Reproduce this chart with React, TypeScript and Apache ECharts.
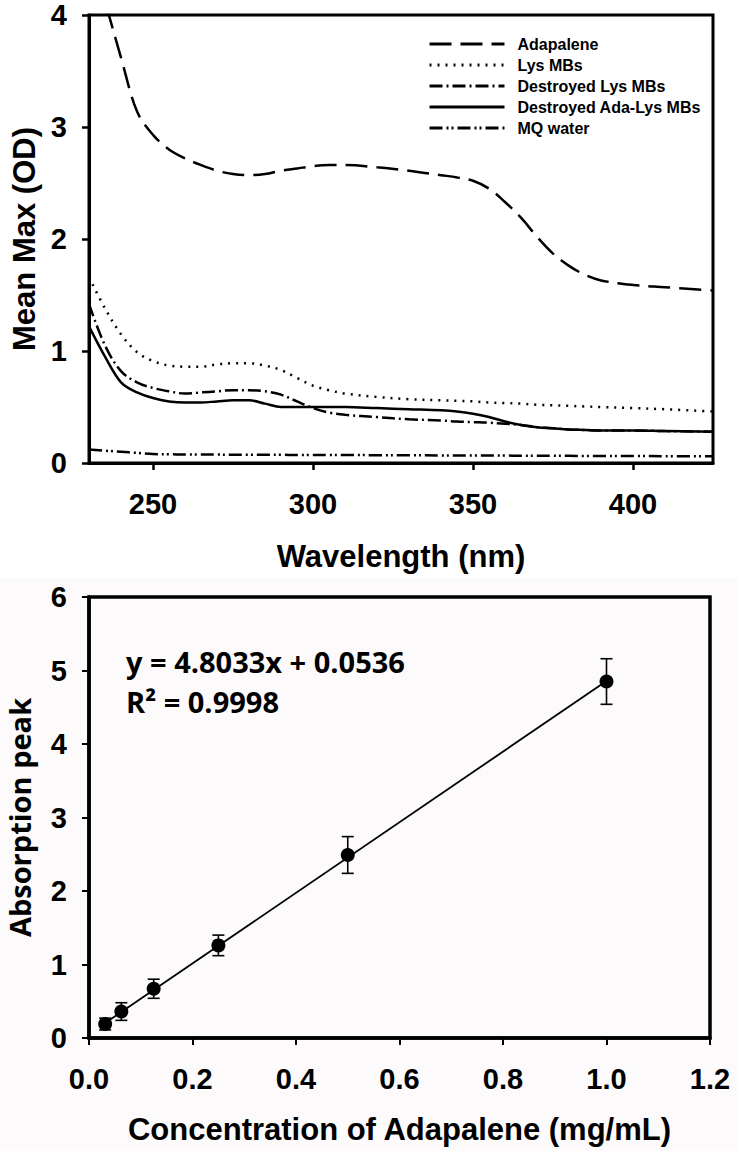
import React, { useEffect, useRef } from "react";
import * as echarts from "echarts";

// ---- Top chart: UV spectra ----
const wavelengths = [230, 235, 240, 245, 250, 255, 260, 265, 270, 275, 280, 285, 290, 295, 300, 305, 310, 320, 330, 340, 345, 350, 355, 360, 365, 370, 375, 380, 385, 390, 400, 410, 425];
const adapalene = [4.6, 4.12, 3.62, 3.14, 2.93, 2.8, 2.72, 2.66, 2.61, 2.58, 2.57, 2.58, 2.61, 2.63, 2.65, 2.66, 2.66, 2.64, 2.61, 2.57, 2.55, 2.52, 2.45, 2.33, 2.19, 2.02, 1.87, 1.76, 1.68, 1.63, 1.59, 1.57, 1.54];
const lysMBs = [1.66, 1.38, 1.15, 0.99, 0.91, 0.87, 0.86, 0.86, 0.88, 0.89, 0.89, 0.87, 0.83, 0.76, 0.69, 0.65, 0.62, 0.59, 0.57, 0.56, 0.555, 0.55, 0.54, 0.535, 0.53, 0.52, 0.515, 0.51, 0.505, 0.5, 0.49, 0.48, 0.46];
const destroyedLys = [1.42, 1.05, 0.82, 0.72, 0.67, 0.64, 0.62, 0.63, 0.64, 0.65, 0.65, 0.64, 0.61, 0.55, 0.49, 0.45, 0.43, 0.41, 0.39, 0.38, 0.37, 0.365, 0.36, 0.35, 0.34, 0.32, 0.31, 0.3, 0.295, 0.29, 0.29, 0.285, 0.28];
const destroyedAdaLys = [1.22, 0.95, 0.72, 0.63, 0.58, 0.55, 0.54, 0.54, 0.55, 0.56, 0.56, 0.53, 0.5, 0.5, 0.5, 0.5, 0.5, 0.49, 0.48, 0.47, 0.46, 0.44, 0.41, 0.37, 0.34, 0.32, 0.31, 0.3, 0.295, 0.29, 0.29, 0.285, 0.28];
const mqWater = [0.12, 0.11, 0.1, 0.09, 0.08, 0.078, 0.076, 0.075, 0.075, 0.074, 0.074, 0.073, 0.073, 0.072, 0.072, 0.071, 0.071, 0.07, 0.07, 0.068, 0.068, 0.067, 0.066, 0.066, 0.065, 0.065, 0.064, 0.064, 0.063, 0.063, 0.062, 0.061, 0.06];
const wavelengthTicks = [250, 300, 350, 400];
const seriesNames = ["Adapalene", "Lys MBs", "Destroyed Lys MBs", "Destroyed Ada-Lys MBs", "MQ water"];

// ---- Bottom chart: calibration ----
const concentrations = [0.03125, 0.0625, 0.125, 0.25, 0.5, 1.0];
const absorption = [0.19, 0.36, 0.67, 1.26, 2.49, 4.85];
const absorptionErr = [0.08, 0.12, 0.13, 0.14, 0.25, 0.31];
const trendX = [0.03125, 1.0];
const trendY = [0.204, 4.857];
const equationText = "y = 4.8033x + 0.0536";
const r2Text = "R² = 0.9998";

const ARIAL = "Liberation Sans";

export default function App() {
  const ref = useRef<HTMLDivElement>(null);

  useEffect(() => {
    if (!ref.current) return;
    const chart = echarts.init(ref.current, undefined, { renderer: "svg" });

    const pair = (ys: number[]) => wavelengths.map((w, i) => [w, ys[i]]);
    const dashes: any[] = [
      [22, 9],
      [2, 6],
      [13, 4, 2, 4],
      "solid",
      [13, 4, 2, 3, 2, 4],
    ];
    const datasets = [adapalene, lysMBs, destroyedLys, destroyedAdaLys, mqWater];

    const topSeries = seriesNames.map((name, i) => ({
      name,
      type: "line",
      xAxisIndex: 0,
      yAxisIndex: 0,
      data: pair(datasets[i]),
      smooth: 0.35,
      symbol: "none",
      clip: true,
      lineStyle: { color: "#000", width: 2.5, type: dashes[i] },
      itemStyle: { color: "#000" },
      z: 3,
    }));

    const tickLabel = {
      fontFamily: ARIAL,
      fontWeight: "bold",
      fontSize: 29,
      color: "#000",
    };

    const eqStyle = {
      fontFamily: "Open Sans",
      fontWeight: "bold",
      fontSize: 29,
      fill: "#000",
      verticalAlign: "middle",
    };

    const option: any = {
      animation: false,
      backgroundColor: "#fff",
      graphic: [
        {
          type: "rect",
          left: 0,
          top: 578,
          shape: { width: 738, height: 573 },
          style: { fill: "#fcfafa" },
          silent: true,
          z: -10,
        },
        {
          type: "text",
          x: 126,
          y: 661,
          style: { ...eqStyle, text: equationText },
          z: 10,
        },
        {
          type: "text",
          x: 126,
          y: 701,
          style: { ...eqStyle, text: r2Text },
          z: 10,
        },
      ],
      legend: {
        data: seriesNames,
        orient: "vertical",
        left: 423,
        top: 31,
        itemWidth: 75,
        itemHeight: 14,
        itemGap: 5,
        align: "left",
        selectedMode: false,
        itemStyle: { color: "rgba(0,0,0,0)", borderWidth: 0, opacity: 0 },
        textStyle: {
          fontFamily: ARIAL,
          fontWeight: "bold",
          fontSize: 16,
          lineHeight: 16,
          color: "#000",
          padding: [0, 0, 0, 8],
        },
        lineStyle: { width: 3, color: "#000" },
      },
      grid: [
        {
          left: 89,
          top: 15,
          width: 624,
          height: 448,
          show: true,
          borderColor: "#000",
          borderWidth: 3,
          backgroundColor: "transparent",
          outerBoundsMode: "none",
          containLabel: false,
        },
        {
          left: 89,
          top: 597,
          width: 621,
          height: 441,
          show: true,
          borderColor: "#000",
          borderWidth: 3.5,
          backgroundColor: "transparent",
          outerBoundsMode: "none",
          containLabel: false,
        },
      ],
      xAxis: [
        {
          gridIndex: 0,
          type: "value",
          min: 230,
          max: 425,
          splitLine: { show: false },
          axisLine: { show: true, lineStyle: { color: "#000", width: 3 } },
          axisTick: { show: true, length: 7, lineStyle: { color: "#000", width: 2.5 }, customValues: wavelengthTicks },
          axisLabel: { ...tickLabel, margin: 26, customValues: wavelengthTicks },
          name: "Wavelength (nm)",
          nameLocation: "middle",
          nameGap: 78,
          nameTextStyle: { fontFamily: ARIAL, fontWeight: "bold", fontSize: 31, color: "#000" },
        },
        {
          gridIndex: 1,
          type: "value",
          min: 0,
          max: 1.2,
          interval: 0.2,
          splitLine: { show: false },
          axisLine: { show: true, lineStyle: { color: "#000", width: 3.5 } },
          axisTick: { show: true, length: 7, lineStyle: { color: "#000", width: 2 } },
          axisLabel: { ...tickLabel, margin: 26, formatter: (v: number) => v.toFixed(1) },
          name: "Concentration of Adapalene (mg/mL)",
          nameLocation: "middle",
          nameGap: 76,
          nameTextStyle: { fontFamily: ARIAL, fontWeight: "bold", fontSize: 31, color: "#000" },
        },
      ],
      yAxis: [
        {
          gridIndex: 0,
          type: "value",
          min: 0,
          max: 4,
          interval: 1,
          splitLine: { show: false },
          axisLine: { show: true, lineStyle: { color: "#000", width: 3 } },
          axisTick: { show: true, length: 7, lineStyle: { color: "#000", width: 2.5 } },
          axisLabel: { ...tickLabel, margin: 22 },
          name: "Mean Max (OD)",
          nameLocation: "middle",
          nameGap: 38,
          nameTextStyle: { fontFamily: ARIAL, fontWeight: "bold", fontSize: 31, color: "#000" },
        },
        {
          gridIndex: 1,
          type: "value",
          min: 0,
          max: 6,
          interval: 1,
          splitLine: { show: false },
          axisLine: { show: true, lineStyle: { color: "#000", width: 3.5 } },
          axisTick: { show: true, length: 7, lineStyle: { color: "#000", width: 2 } },
          axisLabel: { ...tickLabel, margin: 22 },
          name: "Absorption peak",
          nameLocation: "middle",
          nameGap: 55,
          nameTextStyle: { fontFamily: "Open Sans", fontWeight: "bold", fontSize: 29, color: "#000" },
        },
      ],
      series: [
        ...topSeries,
        {
          name: "error",
          type: "custom",
          xAxisIndex: 1,
          yAxisIndex: 1,
          data: concentrations.map((c, i) => [c, absorption[i], absorptionErr[i]]),
          encode: { x: 0, y: 1 },
          z: 4,
          renderItem: (_params: any, api: any) => {
            const x = api.value(0);
            const y = api.value(1);
            const e = api.value(2);
            const hi = api.coord([x, y + e]);
            const lo = api.coord([x, y - e]);
            const cap = 6;
            const style = { stroke: "#000", lineWidth: 1.6 };
            return {
              type: "group",
              children: [
                { type: "line", shape: { x1: hi[0], y1: hi[1], x2: lo[0], y2: lo[1] }, style },
                { type: "line", shape: { x1: hi[0] - cap, y1: hi[1], x2: hi[0] + cap, y2: hi[1] }, style },
                { type: "line", shape: { x1: lo[0] - cap, y1: lo[1], x2: lo[0] + cap, y2: lo[1] }, style },
              ],
            };
          },
        },
        {
          name: "trend",
          type: "line",
          xAxisIndex: 1,
          yAxisIndex: 1,
          data: trendX.map((x, i) => [x, trendY[i]]),
          symbol: "none",
          lineStyle: { color: "#000", width: 1.8 },
          z: 5,
        },
        {
          name: "points",
          type: "scatter",
          xAxisIndex: 1,
          yAxisIndex: 1,
          data: concentrations.map((c, i) => [c, absorption[i]]),
          symbol: "circle",
          symbolSize: 14,
          itemStyle: { color: "#000", opacity: 1 },
          z: 6,
        },
      ],
    };

    chart.setOption(option);
    return () => chart.dispose();
  }, []);

  return (
    <div
      ref={ref}
      style={{ position: "absolute", left: 0, top: 0, width: 738, height: 1151 }}
    />
  );
}
